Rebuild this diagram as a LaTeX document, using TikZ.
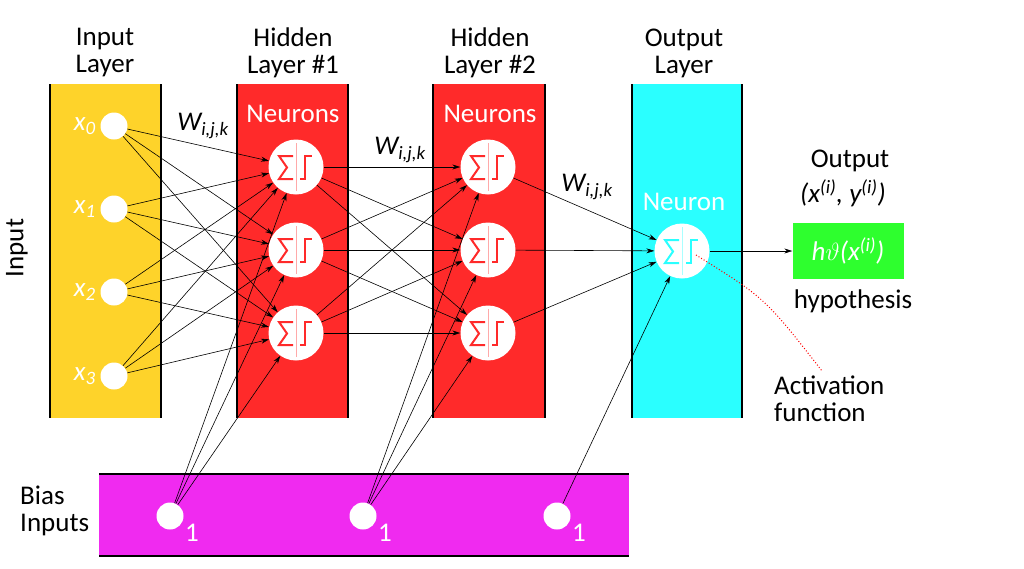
\documentclass[tikz,border=0pt]{standalone}
\usepackage{fontspec}
\setmainfont{Carlito}
\usetikzlibrary{arrows.meta,positioning,calc}
\definecolor{layeryellow}{RGB}{254,211,42}
\definecolor{layerred}{RGB}{255,42,42}
\definecolor{layercyan}{RGB}{42,255,255}
\definecolor{biasmagenta}{RGB}{240,42,240}
\definecolor{hypgreen}{RGB}{46,255,46}

\begin{document}
\begin{tikzpicture}[
    x=1pt, y=-1pt,
    font=\fontsize{27}{27}\selectfont,
    unit/.style={circle, fill=white, inner sep=0pt, minimum size=27pt},
    neuron/.style={circle, fill=white, inner sep=0pt, minimum size=55pt},
    border/.style={line width=2.8pt},
    link/.style={line width=0.6pt, -{Stealth[length=8pt,width=5pt]}},
    wlabel/.style={font=\fontsize{27}{27}\selectfont\itshape},
    glyph/.pic={
        \draw[pic actions, line width=2pt, line join=miter] (-3,-11) -- (-17,-11) -- (-9,0.5) -- (-17,12) -- (-3,12);
        \draw[pic actions, line width=2pt] (4,12) -- (9,12) -- (9,-11) -- (16,-11);
        \draw[pic actions, opacity=0.4, line width=1pt] (0,-24) -- (0,24);
    }
]
    \useasboundingbox (0,0) rectangle (1024,568);

    % Layer bars
    \fill[layeryellow] (50,84) rectangle (161,418);
    \fill[layerred] (237,84) rectangle (348,418);
    \fill[layerred] (433,84) rectangle (545,418);
    \fill[layercyan] (632,84) rectangle (742,418);
    \foreach \xa/\xb in {50/161,237/348,433/545,632/742} {
        \draw[border] (\xa,84) -- (\xa,418);
        \draw[border] (\xb,84) -- (\xb,418);
    }
    \fill[biasmagenta] (99,474) rectangle (629,556);
    \draw[border] (99,474) -- (629,474);
    \draw[border] (99,556) -- (629,556);

    % Headers
    \node[align=center] (hin) at (105,53) {Input\\Layer};
    \node[align=center] (hh1) at (293,53) {Hidden\\Layer \#1};
    \node[align=center] (hh2) at (490,53) {Hidden\\Layer \#2};
    \node[align=center] (hout) at (684,53) {Output\\Layer};
    \node[white] (neu1) at (293,114) {Neurons};
    \node[white] (neu2) at (490,114) {Neurons};
    \node[white] (neu3) at (684,202) {Neuron};
    \node[rotate=90] (inlbl) at (17,248) {Input};
    \node[align=left, anchor=west, inner sep=0pt] (biaslbl) at (20,511) {Bias\\Inputs};

    % Input units
    \foreach \i/\y in {0/126,1/209,2/292,3/376} {
        \node[unit] (x\i) at (114,\y) {};
        \node[white, wlabel, left=1pt of x\i] (lx\i) {x\textsubscript{\i}};
    }

    % Neurons
    \foreach \n/\y in {a/167,b/250,c/333} {
        \node[neuron] (h1\n) at (296,\y) {};
        \node[neuron] (h2\n) at (488,\y) {};
    }
    \node[neuron] (out) at (682,251) {};

    % Bias units
    \foreach \i/\x in {1/170,2/363,3/557} {
        \node[unit] (b\i) at (\x,516) {};
        \node[white] (one\i) at ($(b\i)+(22,17)$) {1};
    }

    % Hypothesis
    \node[fill=hypgreen, minimum width=111pt, minimum height=56pt, text=white, wlabel] (hyp) at (848,251) {h$\vartheta$(x\textsuperscript{(i)})};
    \node (outlbl) at (850,161) {Output};
    \node[wlabel] (pair) at (843,193) {(x\textsuperscript{(i)}, y\textsuperscript{(i)})};
    \node (hyplbl) at (853,301) {hypothesis};

    % Weights
    \node[wlabel] (w1) at (203,126) {W\textsubscript{i,j,k}};
    \node[wlabel] (w2) at (400,150) {W\textsubscript{i,j,k}};
    \node[wlabel] (w3) at (587,187) {W\textsubscript{i,j,k}};

    % Connections
    \foreach \i in {0,...,3}
        \foreach \n in {a,b,c} \draw[link] (x\i) -- (h1\n);
    \foreach \m in {a,b,c}
        \foreach \n in {a,b,c} \draw[link] (h1\m) -- (h2\n);
    \foreach \n in {a,b,c} {
        \draw[link] (h2\n) -- (out);
        \draw[link] (b1) -- (h1\n);
        \draw[link] (b2) -- (h2\n);
    }
    \draw[link] (b3) -- (out);
    \draw[link] (out) -- (hyp);

    % Sum and step glyphs
    \foreach \n in {a,b,c} {
        \pic[draw=layerred] at (h1\n) {glyph};
        \pic[draw=layerred] at (h2\n) {glyph};
    }
    \pic[draw=layercyan] at (out) {glyph};

    % Activation function note
    \node[anchor=north west, inner sep=0pt, align=left] (act) at (774,376) {Activation\\function};
    \coordinate (actfrom) at (696,255);
    \coordinate (actto) at (822,371);
    \draw[red, dotted, line width=1pt] (actfrom) .. controls (765,298) .. (actto);
\end{tikzpicture}
\end{document}
